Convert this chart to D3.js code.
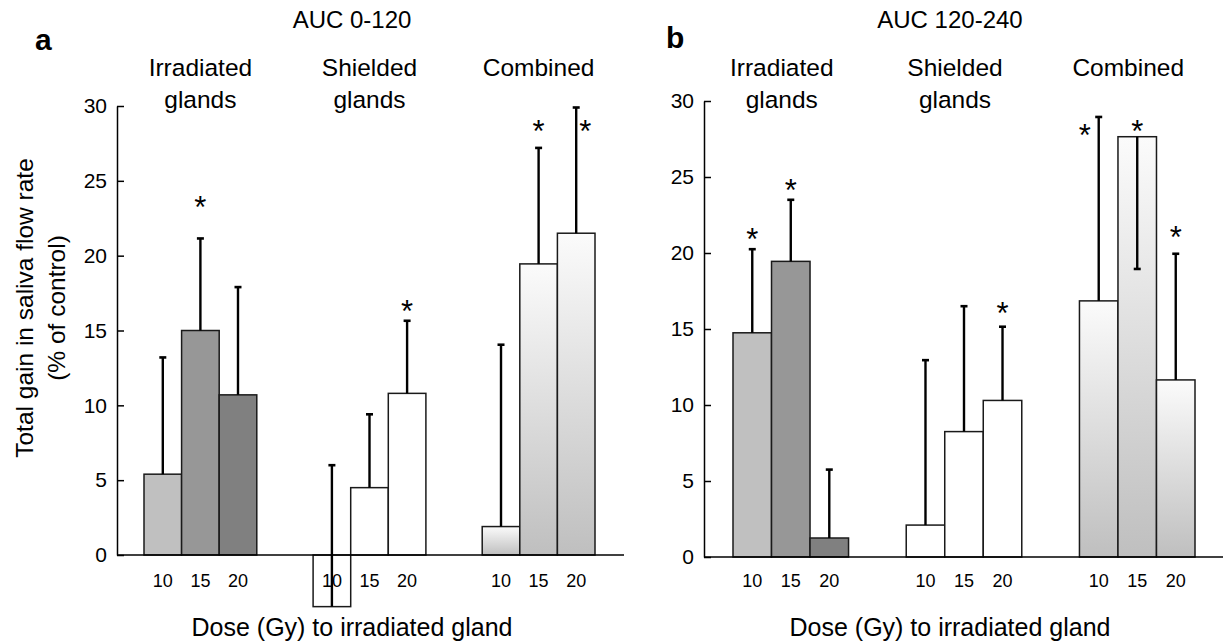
<!DOCTYPE html>
<html>
<head>
<meta charset="utf-8">
<script src="https://cdn.jsdelivr.net/npm/d3@7"></script>
<style>
  body { margin: 0; background: #fff; }
  svg { display: block; font-family: "Liberation Sans", Arial, Helvetica, sans-serif; }
</style>
</head>
<body>
<main></main>
<script>
var groups = ["Irradiated glands", "Shielded glands", "Combined"];
var doses = ["10", "15", "20"];
var yTicks = [0, 5, 10, 15, 20, 25, 30];

// AUC 0-120, order: irradiated 10/15/20, shielded 10/15/20, combined 10/15/20
var meanA = [5.4, 15.0, 10.7, -3.45, 4.5, 10.8, 1.9, 19.45, 21.5];
var errA = [7.8, 6.15, 7.2, 9.45, 4.9, 4.85, 12.15, 7.75, 8.4];
var starA = [null, 23.7, null, null, null, 16.8, null, 28.8, 28.8];

// AUC 120-240
var meanB = [14.75, 19.45, 1.25, 2.1, 8.25, 10.3, 16.85, 27.65, 11.65];
var errB = [5.5, 4.05, 4.5, 10.85, 8.25, 4.85, 12.1, -8.7, 8.3];
var starB = [21.4, 24.6, null, null, null, 16.5, 28.2, 28.5, 21.5];

var irrColors = ["#c0c0c0", "#979797", "#808080"];

var svg = d3.select("main").append("svg").attr("width", 1223).attr("height", 644);

var grad = svg.append("defs").append("linearGradient")
    .attr("id", "combGrad")
    .attr("x1", 0).attr("y1", 0).attr("x2", 0).attr("y2", 1);
grad.append("stop").attr("offset", "0%").attr("stop-color", "#fbfbfb");
grad.append("stop").attr("offset", "100%").attr("stop-color", "#bfbfbf");

drawPanel({
    letter: "a", title: "AUC 0-120",
    mean: meanA, err: errA, star: starA,
    axisX: 117, lineEnd: 624, barsX: [144, 595], yRange: [555, 106],
    letterX: 35, letterY: 50, centerX: 352, headDx: 0, yLabel: true
});

drawPanel({
    letter: "b", title: "AUC 120-240",
    mean: meanB, err: errB, star: starB,
    axisX: 704, lineEnd: 1223, barsX: [733, 1195], yRange: [557, 101],
    letterX: 666, letterY: 48, centerX: 950, headDx: -9, yLabel: false
});

function drawPanel(p) {
    var g = svg.append("g");

    var x = d3.scaleBand().domain(groups).range(p.barsX).paddingInner(0.333).paddingOuter(0);
    var xi = d3.scaleBand().domain(doses).range([0, x.bandwidth()]).padding(0);
    var y = d3.scaleLinear().domain([0, 30]).range(p.yRange);

    var rows = [];
    groups.forEach(function(grp, gi) {
        doses.forEach(function(d, di) {
            var k = gi * 3 + di;
            rows.push({ group: grp, gi: gi, dose: d, di: di,
                v: p.mean[k], e: p.err[k], s: p.star[k] });
        });
    });
    var cx = function(d) { return x(d.group) + xi(d.dose) + xi.bandwidth() / 2; };

    // bars
    g.selectAll("rect.bar").data(rows).enter().append("rect")
        .attr("class", "bar")
        .attr("x", d => x(d.group) + xi(d.dose))
        .attr("width", xi.bandwidth())
        .attr("y", d => y(Math.max(0, d.v)))
        .attr("height", d => Math.abs(y(d.v) - y(0)))
        .attr("fill", function(d) {
            if (d.gi == 0) return irrColors[d.di];
            if (d.gi == 1) return "#fff";
            return "url(#combGrad)";
        })
        .attr("stroke", "#1a1a1a")
        .attr("stroke-width", 1.5);

    // error bars
    g.selectAll("line.err").data(rows).enter().append("line")
        .attr("class", "err")
        .attr("x1", cx).attr("x2", cx)
        .attr("y1", d => y(d.v)).attr("y2", d => y(d.v + d.e))
        .attr("stroke", "#000").attr("stroke-width", 2.4);
    g.selectAll("line.cap").data(rows).enter().append("line")
        .attr("class", "cap")
        .attr("x1", d => cx(d) - 3.5).attr("x2", d => cx(d) + 3.5)
        .attr("y1", d => y(d.v + d.e)).attr("y2", d => y(d.v + d.e))
        .attr("stroke", "#000").attr("stroke-width", 2.6);

    // significance stars, moved beside the line when they sit on it
    g.selectAll("text.star").data(rows.filter(d => d.s != null)).enter().append("text")
        .attr("class", "star")
        .attr("x", function(d) {
            var top = d.v + Math.max(d.e, 0);
            if (d.s >= top) return cx(d);
            return cx(d) + (d.di == 2 ? 9 : -14);
        })
        .attr("y", d => y(d.s) + 18)
        .attr("text-anchor", "middle")
        .attr("font-size", 31)
        .text("*");

    // y axis, ticks inward
    g.append("g")
        .attr("transform", "translate(" + p.axisX + ",0)")
        .call(d3.axisLeft(y).tickValues(yTicks).tickSizeInner(-7).tickSizeOuter(0).tickPadding(10))
        .call(a => a.selectAll("text").attr("font-size", 21).attr("fill", "#000")
            .attr("font-family", "Liberation Sans, Arial, sans-serif"))
        .call(a => a.selectAll("line, path").attr("stroke", "#000").attr("stroke-width", 1.5));

    // zero line
    g.append("line")
        .attr("x1", p.axisX).attr("x2", p.lineEnd)
        .attr("y1", y(0)).attr("y2", y(0))
        .attr("stroke", "#000").attr("stroke-width", 1.5);

    // dose labels
    g.selectAll("text.dose").data(rows).enter().append("text")
        .attr("class", "dose")
        .attr("x", cx)
        .attr("y", 587)
        .attr("text-anchor", "middle")
        .attr("font-size", 18)
        .text(d => d.dose);

    // group headers
    groups.forEach(function(grp) {
        var words = grp.split(" ");
        words.forEach(function(w, i) {
            g.append("text")
                .attr("x", x(grp) + x.bandwidth() / 2 + p.headDx)
                .attr("y", 76 + i * 32)
                .attr("text-anchor", "middle")
                .attr("font-size", 24.5)
                .text(w);
        });
    });

    g.append("text")
        .attr("x", p.centerX).attr("y", 28)
        .attr("text-anchor", "middle")
        .attr("font-size", 24)
        .text(p.title);

    g.append("text")
        .attr("x", p.letterX).attr("y", p.letterY)
        .attr("font-size", 30)
        .attr("font-weight", "bold")
        .text(p.letter);

    g.append("text")
        .attr("x", p.centerX).attr("y", 636)
        .attr("text-anchor", "middle")
        .attr("font-size", 25)
        .text("Dose (Gy) to irradiated gland");

    if (p.yLabel) {
        var yl = g.append("text")
            .attr("transform", "translate(0,308) rotate(-90)")
            .attr("text-anchor", "middle")
            .attr("font-size", 24.5);
        yl.append("tspan").attr("x", 0).attr("y", 33).text("Total gain in saliva flow rate");
        yl.append("tspan").attr("x", 0).attr("y", 65).text("(% of control)");
    }
}
</script>
</body>
</html>
